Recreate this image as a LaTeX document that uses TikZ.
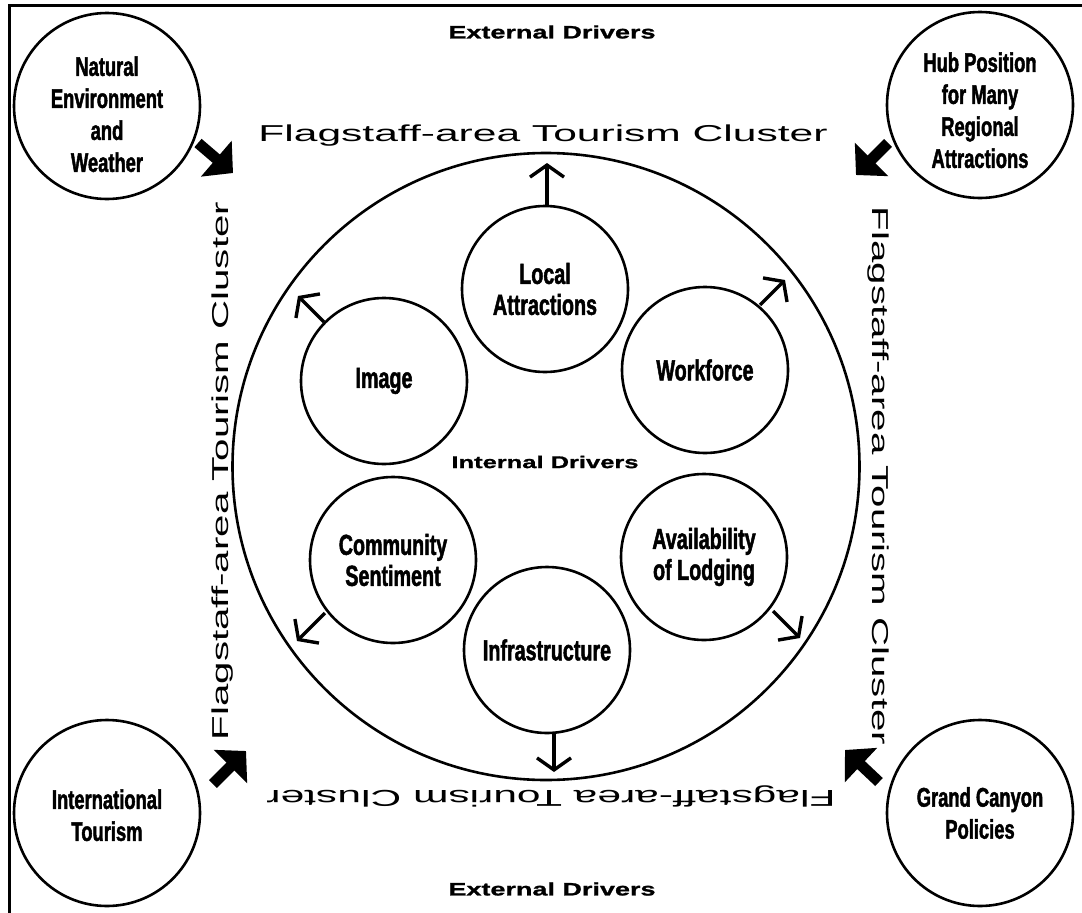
\documentclass[tikz,border=0pt]{standalone}
\usepackage{fontspec}
\setmainfont{Liberation Sans}
\newfontfamily\condfont[FakeStretch=0.68,FakeBold=1.6]{Liberation Sans}
\newfontfamily\widefont[FakeStretch=1.5,FakeBold=1.2]{Liberation Sans}
\newfontfamily\clusterfont[FakeStretch=1.85]{Liberation Sans}
\newfontfamily\clustervfont[FakeStretch=1.75]{Liberation Sans}
\usetikzlibrary{arrows.meta}
\begin{document}
\begin{tikzpicture}[x=1pt,y=-1pt,
  circ/.style={circle,draw,line width=2.6pt,inner sep=0pt,align=center},
  extc/.style={circ,minimum size=186pt,font=\condfont\bfseries\fontsize{27}{32}\selectfont},
  intc/.style={circ,minimum size=166pt,font=\condfont\bfseries\fontsize{29}{31}\selectfont},
  bigc/.style={circle,draw,line width=2.6pt,minimum size=627pt,inner sep=0pt},
  thinarrow/.style={line width=3.4pt,-{Straight Barb[length=12pt,width=34pt]}},
  fatarrow/.style={line width=11pt,-{Triangle[length=22pt,width=46pt]}},
  cluster/.style={font=\clusterfont\fontsize{23}{28}\selectfont,inner sep=0pt},
  clusterv/.style={font=\clustervfont\fontsize{23}{28}\selectfont,inner sep=0pt},
  drivers/.style={font=\widefont\bfseries\fontsize{18}{22}\selectfont,inner sep=0pt}]
\useasboundingbox (0,0) rectangle (1082,913);
% frame
\draw[line width=3pt] (9,913) -- (9,5) -- (1082,5);
% big cluster circle
\node[bigc] (cl) at (546,466.5) {};
% external drivers
\node[extc] (nat) at (107,106) {\rule{0pt}{36pt}Natural\\Environment\\and\\Weather};
\node[extc] (hub) at (980,105) {\rule{0pt}{30pt}Hub Position\\for Many\\Regional\\Attractions};
\node[extc] (intl) at (107,813) {\rule{0pt}{24pt}International\\Tourism};
\node[extc] (gc) at (980,813) {Grand Canyon\\Policies};
% internal drivers
\node[intc] (loc) at (545,289) {Local\\Attractions};
\node[intc] (img) at (384,381) {Image};
\node[intc] (wf) at (705,370) {Workforce};
\node[intc] (com) at (393,560) {Community\\Sentiment};
\node[intc] (lod) at (704,557) {Availability\\of Lodging};
\node[intc] (inf) at (547,650) {Infrastructure};
% labels
\node[drivers,font=\widefont\bfseries\fontsize{17}{22}\selectfont] (intd) at (545,462) {Internal Drivers};
\node[drivers] (extt) at (552,32) {External Drivers};
\node[drivers] (extb) at (552,889) {External Drivers};
\node[cluster,anchor=base] (ct) at (543,141) {Flagstaff-area Tourism Cluster};
\node[clusterv,anchor=base,rotate=90] (cleft) at (228,471) {Flagstaff-area Tourism Cluster};
\node[clusterv,anchor=base,rotate=-90] (cright) at (872,476) {Flagstaff-area Tourism Cluster};
\node[cluster,anchor=base,rotate=180] (cbot) at (551,790) {Flagstaff-area Tourism Cluster};
% thin arrows
\coordinate (upS) at (547,206); \coordinate (upT) at (547,163);
\coordinate (ulS) at (324,322); \coordinate (ulT) at (298,296);
\coordinate (urS) at (760,305); \coordinate (urT) at (785,280);
\coordinate (llS) at (325,613); \coordinate (llT) at (297,641);
\coordinate (lrS) at (773,611); \coordinate (lrT) at (800,638);
\coordinate (dnS) at (554,733); \coordinate (dnT) at (554,772);
\draw[thinarrow] (upS) -- (upT);
\draw[thinarrow] (ulS) -- (ulT);
\draw[thinarrow] (urS) -- (urT);
\draw[thinarrow] (llS) -- (llT);
\draw[thinarrow] (lrS) -- (lrT);
\draw[thinarrow] (dnS) -- (dnT);
% fat arrows
\coordinate (natS) at (198,143); \coordinate (natT) at (233,173);
\coordinate (hubS) at (888,143); \coordinate (hubT) at (856,175);
\coordinate (intS) at (213,784); \coordinate (intT) at (246,751);
\coordinate (gcS) at (879,782); \coordinate (gcT) at (845,750);
\draw[fatarrow] (natS) -- (natT);
\draw[fatarrow] (hubS) -- (hubT);
\draw[fatarrow] (intS) -- (intT);
\draw[fatarrow] (gcS) -- (gcT);
\end{tikzpicture}
\end{document}
